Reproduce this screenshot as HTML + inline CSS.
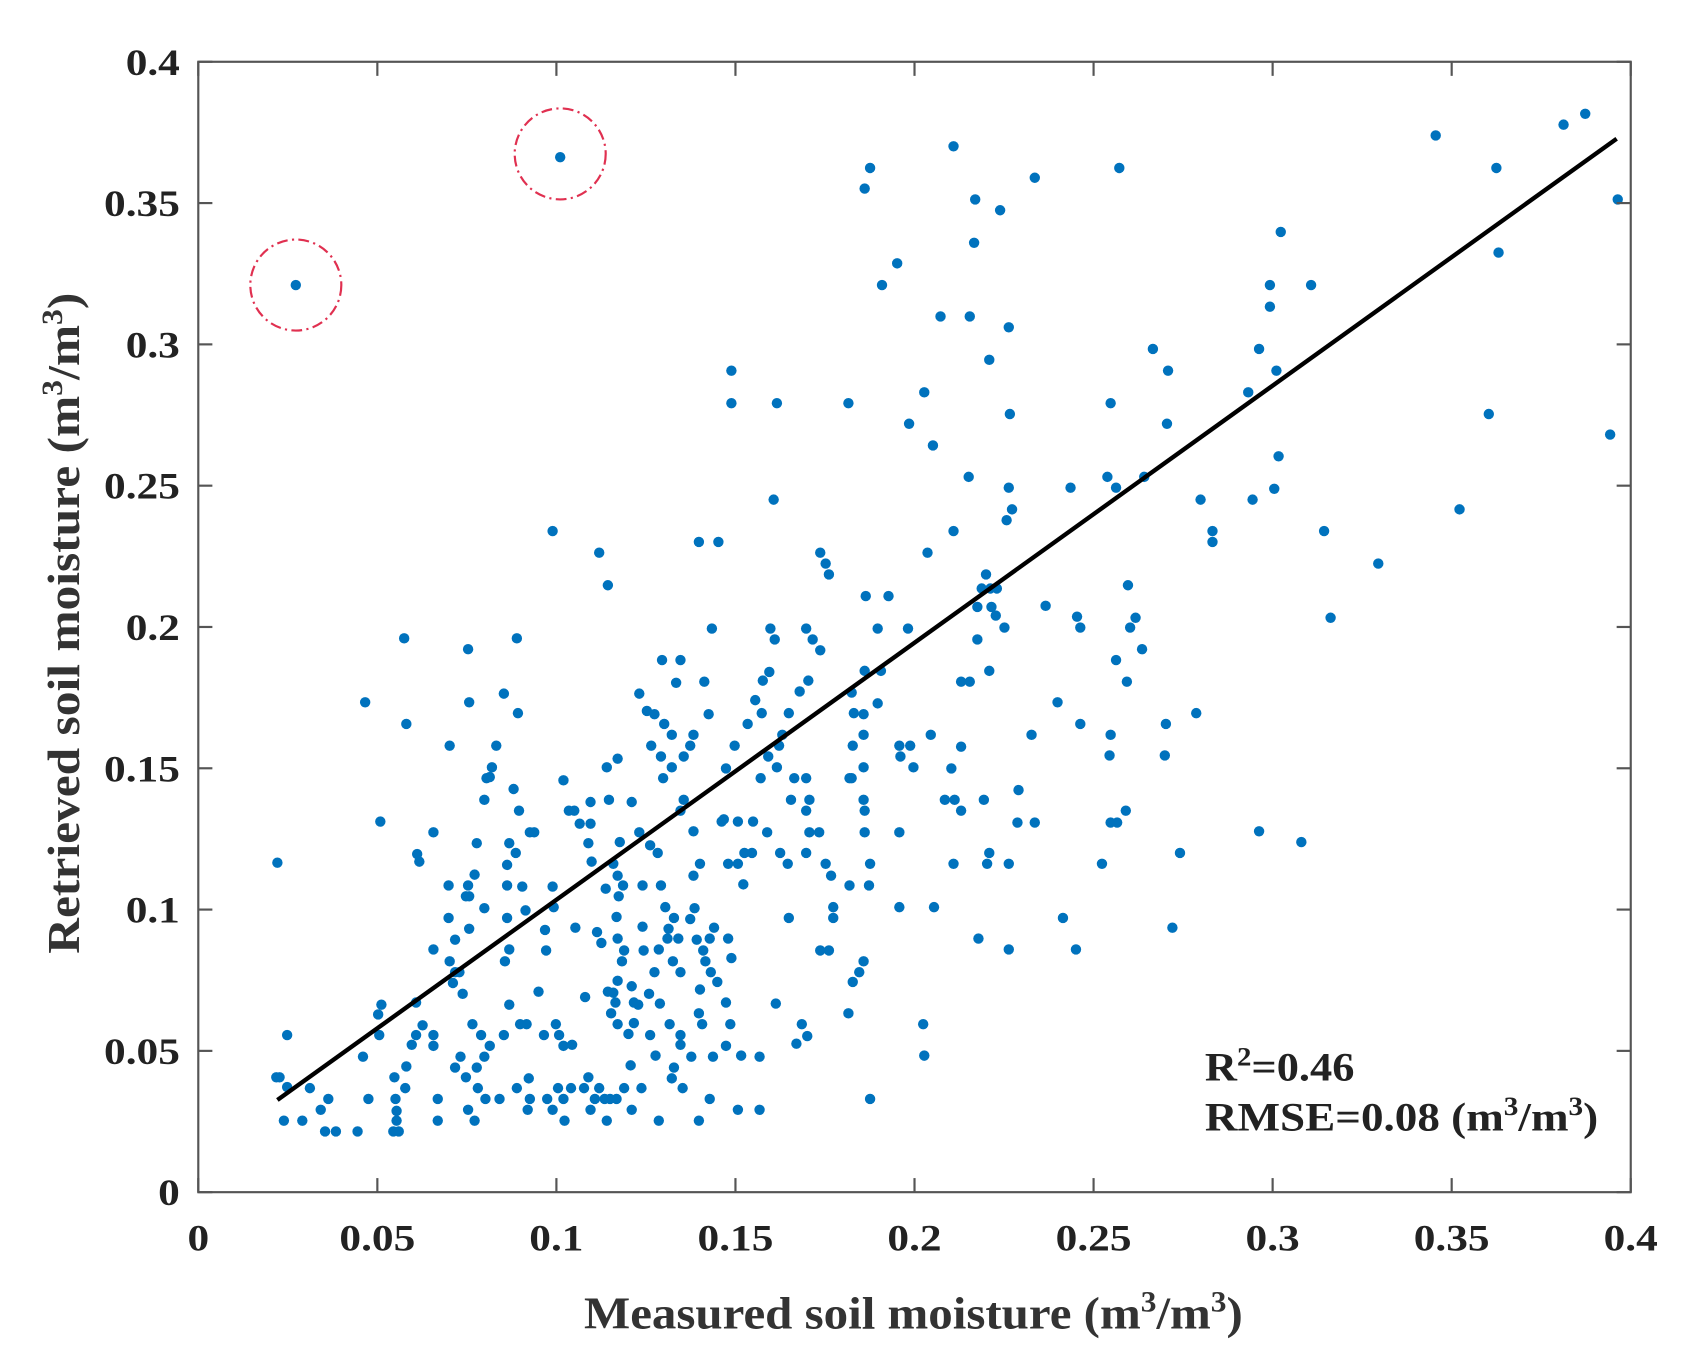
<!DOCTYPE html>
<html><head><meta charset="utf-8"><style>html,body{margin:0;padding:0;background:#fff}svg{display:block}</style></head>
<body>
<svg width="1699" height="1371" viewBox="0 0 1568 1265" preserveAspectRatio="none" xmlns="http://www.w3.org/2000/svg" font-family="Liberation Serif, serif" font-weight="bold">
<rect width="1568" height="1265" fill="#fff"/>
<g id="dots" fill="#0072BD"></g>
<line x1="256" y1="1015" x2="1492" y2="128" stroke="#000" stroke-width="4"/>
<circle cx="273" cy="263" r="42" fill="none" stroke="#e03050" stroke-width="2" stroke-dasharray="10,4,2,4"/>
<circle cx="517" cy="142" r="42" fill="none" stroke="#e03050" stroke-width="2" stroke-dasharray="10,4,2,4"/>
<rect x="183" y="57" width="1322" height="1043" fill="none" stroke="#555" stroke-width="2"/>
<g id="ticks" stroke="#555" stroke-width="2"></g>
<g font-size="34" fill="#222" text-anchor="end" id="ylab"></g>
<g font-size="34" fill="#222" text-anchor="middle" id="xlab"></g>
<text x="843" y="1226" font-size="42" fill="#333" text-anchor="middle" textLength="608" lengthAdjust="spacingAndGlyphs">Measured soil moisture (m<tspan font-size="27" dy="-16">3</tspan><tspan dy="16">/m</tspan><tspan font-size="27" dy="-16">3</tspan><tspan dy="16">)</tspan></text>
<text transform="translate(73,575) rotate(-90)" font-size="42" fill="#333" text-anchor="middle" textLength="610" lengthAdjust="spacingAndGlyphs">Retrieved soil moisture (m<tspan font-size="27" dy="-16">3</tspan><tspan dy="16">/m</tspan><tspan font-size="27" dy="-16">3</tspan><tspan dy="16">)</tspan></text>
<text x="1112" y="997" font-size="37" fill="#222" textLength="138" lengthAdjust="spacingAndGlyphs">R<tspan font-size="24" dy="-14">2</tspan><tspan dy="14">=0.46</tspan></text>
<text x="1112" y="1043" font-size="37" fill="#222" textLength="363" lengthAdjust="spacingAndGlyphs">RMSE=0.08 (m<tspan font-size="24" dy="-14">3</tspan><tspan dy="14">/m</tspan><tspan font-size="24" dy="-14">3</tspan><tspan dy="14">)</tspan></text>
</svg>
<script>
var pts=[[273,263],[517,145],[880,135],[803,155],[798,174],[1033,155],[955,164],[900,184],[923,194],[899,224],[828,243],[814,263],[868,292],[895,292],[913,332],[931,302],[675,342],[675,372],[717,372],[783,372],[839,391],[853,362],[861,411],[932,382],[894,440],[714,461],[510,490],[553,510],[561,540],[645,500],[663,500],[757,510],[762,520],[765,530],[880,490],[856,510],[1325,125],[1443,115],[1463,105],[1381,155],[1493,184],[1383,233],[1182,214],[1210,263],[1172,263],[1172,283],[1162,322],[1178,342],[1064,322],[1078,342],[1152,362],[1077,391],[1025,372],[1056,440],[1022,440],[1030,450],[988,450],[931,450],[929,480],[934,470],[1108,461],[1119,490],[1119,500],[1156,461],[1176,451],[1180,421],[1222,490],[1272,520],[1347,470],[1374,382],[1486,401],[1228,570],[1041,540],[1048,570],[1054,599],[1043,579],[1040,629],[1030,609],[994,569],[997,579],[965,559],[976,648],[1104,658],[1076,668],[1075,697],[1025,678],[1024,697],[1031,759],[1025,759],[1039,748],[997,668],[952,678],[940,729],[955,759],[939,759],[931,797],[1017,797],[993,876],[981,847],[1162,767],[1201,777],[1089,787],[1082,856],[927,579],[919,568],[910,530],[906,543],[914,543],[920,543],[902,560],[915,560],[902,590],[913,619],[887,629],[895,629],[887,689],[878,709],[881,738],[872,738],[887,748],[908,738],[913,787],[911,797],[931,876],[903,866],[852,945],[853,974],[880,797],[862,837],[830,768],[830,837],[840,688],[830,688],[843,708],[831,698],[859,678],[820,550],[810,580],[838,580],[799,550],[813,619],[810,649],[797,659],[797,678],[798,619],[786,639],[788,658],[787,688],[784,718],[797,738],[798,748],[786,718],[797,708],[798,768],[803,797],[802,817],[784,817],[793,897],[797,887],[787,906],[783,935],[803,1014],[765,877],[757,877],[769,847],[769,837],[762,797],[767,808],[744,718],[747,738],[744,748],[747,768],[756,768],[744,787],[744,580],[750,590],[757,600],[746,628],[738,638],[728,658],[722,678],[719,688],[717,708],[733,718],[730,738],[720,787],[708,768],[727,797],[728,847],[740,945],[745,956],[735,963],[711,580],[715,590],[710,620],[704,628],[697,646],[703,658],[690,668],[678,688],[695,758],[681,758],[666,758],[694,787],[687,787],[686,816],[681,797],[672,797],[702,718],[709,698],[716,926],[701,975],[681,1024],[701,1024],[657,580],[650,629],[654,659],[640,678],[670,709],[637,688],[631,698],[613,668],[620,678],[620,708],[631,738],[628,748],[610,698],[604,659],[611,609],[628,609],[624,630],[612,718],[601,688],[640,767],[646,797],[640,808],[641,838],[637,848],[622,847],[626,866],[616,866],[628,897],[608,876],[621,887],[604,897],[594,877],[599,917],[589,927],[609,926],[585,944],[600,955],[618,945],[628,964],[620,995],[608,1034],[645,1034],[655,1014],[658,975],[638,975],[628,955],[583,1024],[569,1014],[563,1014],[560,1034],[543,994],[539,1004],[527,1004],[520,965],[516,955],[513,945],[504,877],[511,837],[510,818],[503,858],[515,1004],[531,856],[535,760],[543,778],[562,738],[572,777],[566,797],[570,808],[575,817],[571,827],[569,846],[570,866],[576,877],[574,887],[570,905],[566,916],[564,935],[570,945],[583,910],[585,925],[580,954],[593,855],[593,817],[610,817],[614,837],[617,857],[643,867],[649,877],[651,887],[656,897],[646,913],[645,935],[648,945],[662,906],[670,925],[674,945],[670,965],[684,974],[675,884],[672,866],[659,856],[668,756],[655,866],[545,740],[545,760],[530,748],[525,748],[485,840],[482,818],[489,768],[479,748],[476,787],[474,728],[470,778],[468,798],[468,817],[468,847],[470,876],[466,887],[488,995],[489,1014],[487,1024],[461,1014],[448,1014],[441,1004],[432,1024],[438,1034],[436,945],[444,955],[452,965],[447,975],[440,985],[430,994],[427,917],[424,897],[418,907],[415,887],[420,867],[430,827],[433,827],[447,838],[433,857],[420,897],[425,975],[420,985],[404,1014],[404,1034],[400,955],[400,965],[384,925],[390,946],[384,955],[380,964],[375,984],[374,1004],[364,994],[365,1014],[363,1044],[368,1044],[366,1034],[366,1025],[340,1014],[335,975],[350,955],[349,936],[352,927],[330,1044],[300,1044],[310,1044],[303,1014],[296,1024],[286,1004],[279,1034],[262,1034],[265,955],[265,1003],[255,994],[258,994],[256,796],[337,648],[351,758],[385,788],[387,795],[400,768],[400,876],[414,847],[414,817],[432,817],[438,807],[440,778],[447,738],[449,718],[454,708],[458,688],[465,640],[477,589],[478,658],[373,589],[375,668],[415,688],[432,599],[433,648],[452,717],[493,768],[470,927],[480,945],[465,955],[486,945],[477,1004],[497,915],[502,955],[505,1014],[510,1024],[521,1034],[545,1024],[553,1004],[549,1014],[558,1014],[576,1004],[605,974],[622,985],[630,1004],[592,1004],[582,983],[540,920],[528,964],[520,1014],[546,795],[551,860],[555,870],[561,915],[568,925],[520,720],[560,708],[597,656],[590,640],[570,700],[583,740],[590,768],[600,780],[607,787],[559,820]];
var NS="http://www.w3.org/2000/svg",g=document.getElementById('dots');
pts.forEach(function(p){var c=document.createElementNS(NS,'circle');c.setAttribute('cx',p[0]);c.setAttribute('cy',p[1]);c.setAttribute('r',4.8);g.appendChild(c);});
var t=document.getElementById('ticks'),yl=document.getElementById('ylab'),xl=document.getElementById('xlab');
var labs=['0','0.05','0.1','0.15','0.2','0.25','0.3','0.35','0.4'];
function L(x1,y1,x2,y2){var l=document.createElementNS(NS,'line');l.setAttribute('x1',x1);l.setAttribute('y1',y1);l.setAttribute('x2',x2);l.setAttribute('y2',y2);t.appendChild(l);}
function T(par,x,y,s){var e=document.createElementNS(NS,'text');e.setAttribute('x',x);e.setAttribute('y',y);e.textContent=s;var d=s.replace('.','').length,dt=s.length-d;e.setAttribute('textLength',d*20+dt*10);e.setAttribute('lengthAdjust','spacingAndGlyphs');par.appendChild(e);}
for(var i=0;i<9;i++){var x=183+i*1322/8,y=1100-i*1043/8;
L(x,1100,x,1087);L(x,57,x,70);L(183,y,196,y);L(1505,y,1492,y);
T(yl,166,y+12,labs[i]);T(xl,x,1154,labs[i]);}
</script>
</body></html>
